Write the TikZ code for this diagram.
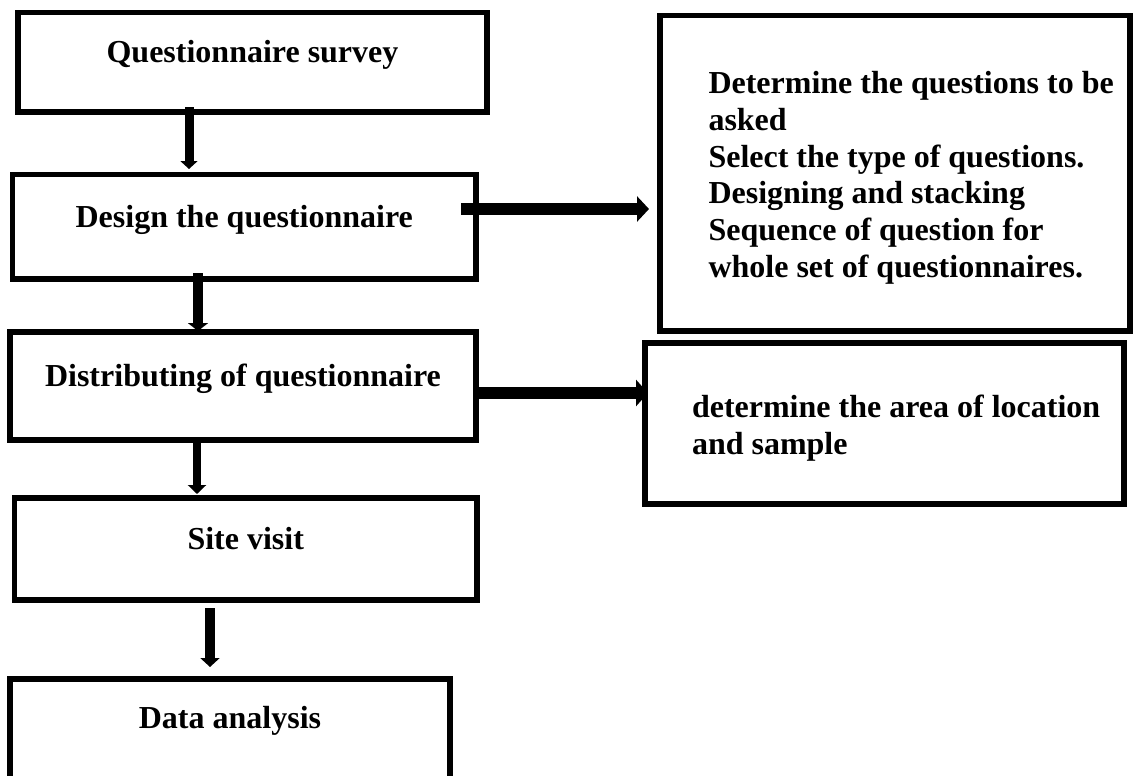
\documentclass[tikz,border=0pt]{standalone}
\usepackage{fontspec}
\setmainfont{Liberation Serif}
\usetikzlibrary{arrows.meta,calc}
\begin{document}
\begin{tikzpicture}[x=1pt,y=-1pt,
  box/.style={draw, rectangle, line width=5.5pt, inner sep=0pt, outer sep=0pt,
    font=\fontsize{32}{37}\selectfont\bfseries},
  txt/.style={inner sep=0pt, outer sep=0pt, font=\fontsize{32}{37}\selectfont\bfseries},
  conn/.style={line width=#1}]
\useasboundingbox (0,0) rectangle (1133,776);

% left column
\node[box, anchor=base, minimum width=469pt, text height=50.5pt, text depth=49pt] (b1) at (252.5,63) {Questionnaire survey};
\node[box, anchor=base, minimum width=463.5pt, text height=52.5pt, text depth=52pt] (b2) at (244.25,227) {Design the questionnaire};
\node[box, anchor=base, minimum width=466pt, text height=54pt, text depth=54pt] (b3) at (243,386) {Distributing of questionnaire};
\node[box, anchor=base, minimum width=462.5pt, text height=51pt, text depth=51pt] (b4) at (245.75,549) {Site visit};
\node[box, anchor=base, minimum width=440pt, text height=49pt, text depth=62pt] (b5) at (230,728) {Data analysis};

% right column
\node[box, anchor=north west, minimum width=470pt, minimum height=315.5pt] (r1) at (660,15.5) {};
\node[txt, anchor=base west] (r1t) at (708.5,93) {\begin{tabular}[t]{@{}l@{}}Determine the questions to be\\ asked\\ Select the type of questions.\\ Designing and stacking\\ Sequence of question for\\ whole set of questionnaires.\end{tabular}};
\node[box, anchor=north west, minimum width=479pt, minimum height=161pt] (r2) at (645,343) {};
\node[txt, anchor=base west] (r2t) at (692,417) {\begin{tabular}[t]{@{}l@{}}determine the area of location\\ and sample\end{tabular}};

% connectors
\draw[conn=9pt, -{Triangle[length=8pt,width=17pt]}] ($(b1.south)+(-63.5,-5)$) -- ($(b2.north)+(-55.25,-5.5)$);
\draw[conn=10pt, -{Triangle[length=8pt,width=20pt]}] ($(b2.south)+(-46.25,-6)$) -- ($(b3.north)+(-45,-1)$);
\draw[conn=8.5pt, -{Triangle[length=9pt,width=18pt]}] ($(b3.south)+(-46,3)$) -- ($(b4.north)+(-48.75,-4)$);
\draw[conn=10pt, -{Triangle[length=9pt,width=19pt]}] ($(b4.south)+(-35.75,8)$) -- ($(b5.north)+(-20,-12)$);
\draw[conn=12pt, -{Triangle[length=12pt,width=25pt]}] ($(b2.east)+(-15,-17.75)$) -- ($(r1.west)+(-11,35.75)$);
\draw[conn=12pt, -{Triangle[length=12pt,width=26pt]}] ($(b3.east)+(2,7)$) -- ($(r2.west)+(3,-30.5)$);
\end{tikzpicture}
\end{document}
